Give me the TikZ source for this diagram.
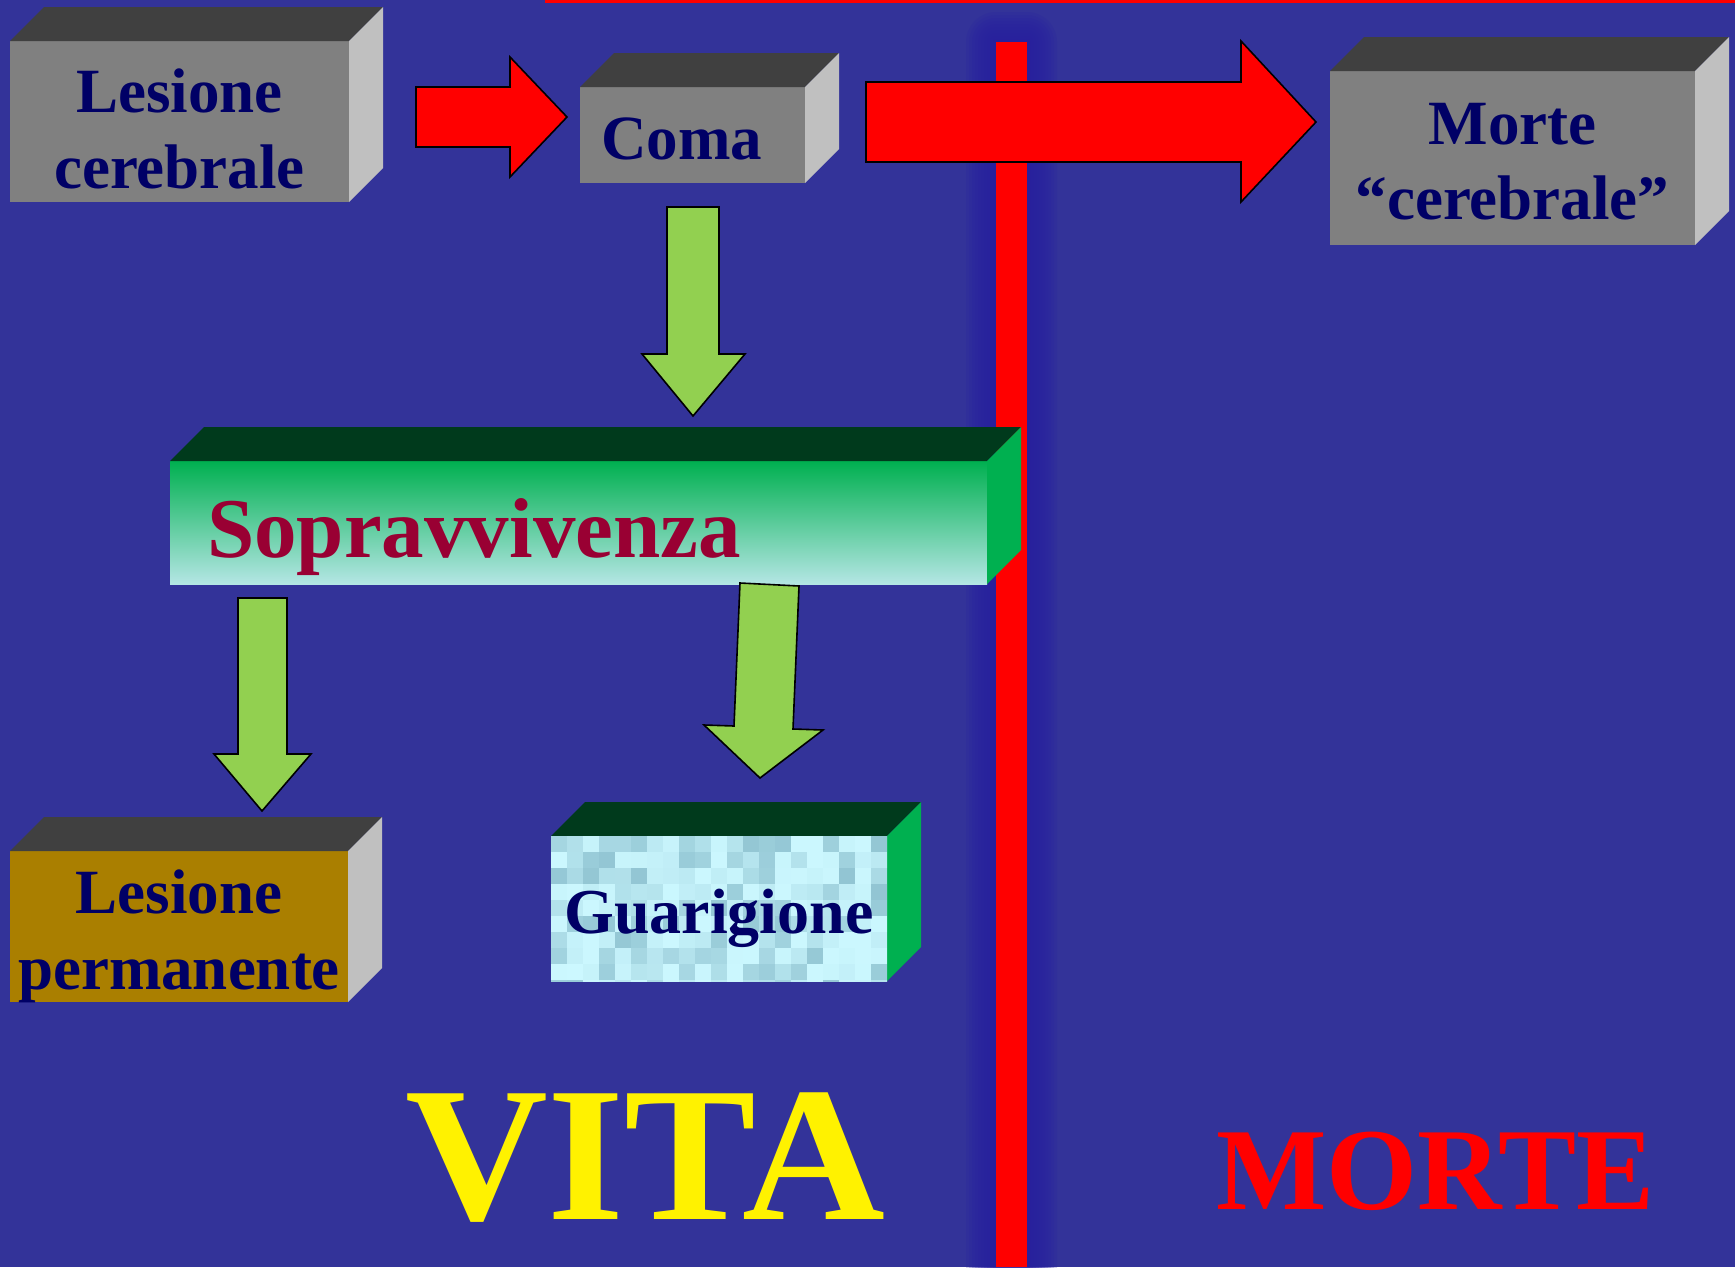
\documentclass[tikz,border=0pt]{standalone}
\usepackage{fontspec}
\setmainfont{Liberation Serif}
\definecolor{bg}{HTML}{333399}
\definecolor{navy}{HTML}{000066}
\definecolor{glow}{HTML}{2820A0}
\definecolor{frontgray}{HTML}{808080}
\definecolor{topgray}{HTML}{404040}
\definecolor{sidegray}{HTML}{C0C0C0}
\definecolor{gold}{HTML}{AA7F00}
\definecolor{dkgreen}{HTML}{003A1C}
\definecolor{green3d}{HTML}{00B050}
\definecolor{arrowgreen}{HTML}{92D050}
\definecolor{wine}{HTML}{990033}
\definecolor{pale}{HTML}{B4E6E4}
\definecolor{iceA}{HTML}{CCF8FF}
\definecolor{iceB}{HTML}{7EB4C4}
\tikzset{
  face/.style={draw=none, inner sep=0pt, outer sep=0pt},
  boxtext/.style={font=\bfseries\fontsize{63}{76}\selectfont, text=navy, align=center, inner sep=0pt},
  redarrow/.style={fill=red, draw=black, line width=1.6pt, line join=miter},
  greenarrow/.style={fill=arrowgreen, draw=black, line width=1.6pt, line join=miter},
}
\newcommand\cubedepth{34}
\newcommand\cubebox[8]{% name, x1, y1, x2, y2, front style, top colour, side colour
  \pgfmathsetmacro\bw{#4-#2}\pgfmathsetmacro\bh{#5-#3}
  \node[face, minimum width=\bw pt, minimum height=\bh pt, anchor=north west, #6] (#1) at (#2,#3) {};
  \fill[#7] (#1.north west) -- ++(\cubedepth,-\cubedepth)
     -- ([shift={(\cubedepth,-\cubedepth)}]#1.north east) -- (#1.north east) -- cycle;
  \fill[#8] (#1.north east) -- ++(\cubedepth,-\cubedepth)
     -- ([shift={(\cubedepth,-\cubedepth)}]#1.south east) -- (#1.south east) -- cycle;
}
\begin{document}
\begin{tikzpicture}[x=1pt,y=-1pt]
\fill[bg] (0,0) rectangle (1735,1267);
\useasboundingbox (0,0) rectangle (1735,1267);
\clip (0,0) rectangle (1735,1267);

% top red line
\fill[red] (545,0) rectangle (1735,2.5);

% vertical border line with glow
\foreach \r in {3,6,...,30}
  \fill[glow, opacity=0.2, rounded corners=\r pt] ({996-\r},{42-\r}) rectangle ({1027+\r},1320);
\fill[red] (996,42) rectangle (1027,1267);

% boxes
\cubebox{lc}{10}{41}{349}{202}{fill=frontgray}{topgray}{sidegray}
\node[boxtext, yshift=-7pt] (lct) at (lc.center) {Lesione\\cerebrale};

\cubebox{co}{580}{87}{805}{183}{fill=frontgray}{topgray}{sidegray}
\node[boxtext, yshift=-4pt, xshift=-11pt] (cot) at (co.center) {Coma};

\cubebox{mc}{1330}{71}{1695}{245}{fill=frontgray}{topgray}{sidegray}
\node[boxtext, font=\bfseries\fontsize{63}{75}\selectfont, yshift=-4pt] (mct) at (mc.center) {Morte\\“cerebrale”};

\cubebox{sv}{170}{461}{987}{584}{top color=green3d, bottom color=pale}{dkgreen}{green3d}
\node[anchor=base west, inner sep=0pt, font=\bfseries\fontsize{85}{100}\selectfont, text=wine] (svt) at (207,557) {Sopravvivenza};

\cubebox{lp}{10}{851}{348}{1002}{fill=gold}{topgray}{sidegray}
\node[boxtext, yshift=-10pt] (lpt) at (lp.center) {Lesione\\permanente};

\cubebox{gu}{551}{836}{887}{981}{fill=iceA}{dkgreen}{green3d}
\begin{scope}
  \clip (gu.south west) rectangle (gu.north east);
  \pgfmathsetseed{4711}
  \foreach \i in {0,...,21}{
    \foreach \j in {0,...,9}{
      \pgfmathsetmacro\mix{int(100-75*rnd^2)}
      \fill[iceA!\mix!iceB] ({551+16*\i},{836+16*\j}) rectangle ++(16,16);
    }
  }
\end{scope}
\node[boxtext, font=\bfseries\fontsize{64}{76}\selectfont, yshift=-9.5pt] (gut) at (gu.center) {Guarigione};

% red block arrows
\draw[redarrow] (416,87) -- (510,87) -- (510,57) -- (567,117) -- (510,177) -- (510,147) -- (416,147) -- cycle;
\draw[redarrow] (866,82) -- (1241,82) -- (1241,41) -- (1316,122) -- (1241,202) -- (1241,162) -- (866,162) -- cycle;

% green block arrows
\draw[greenarrow] (667,207) -- (719,207) -- (719,354) -- (745,354) -- (693,416) -- (642,354) -- (667,354) -- cycle;
\draw[greenarrow] (238,598) -- (287,598) -- (287,754) -- (311,754) -- (262,811) -- (214,754) -- (238,754) -- cycle;
\draw[greenarrow] (740,583) -- (799,586) -- (793,729) -- (823,730) -- (760,778) -- (704,725) -- (734,726) -- cycle;

% big labels
\node[anchor=base west, inner sep=0pt, font=\bfseries\fontsize{192}{200}\selectfont, text=yellow, xscale=1.03] (vita) at (405,1219) {VITA};
\node[anchor=base west, inner sep=0pt, font=\bfseries\fontsize{117}{120}\selectfont, text=red] (morte) at (1216,1209) {MORTE};
\end{tikzpicture}
\end{document}
